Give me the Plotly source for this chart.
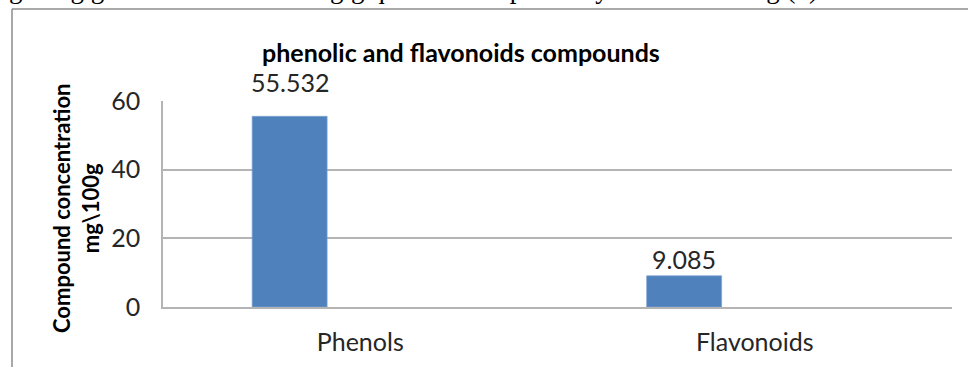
import plotly.graph_objects as go

# ---- data ----
categories = ["Phenols", "Flavonoids"]
values = [55.532, 9.085]
value_labels = ["55.532", "9.085"]
y_ticks = [0, 20, 40, 60]
title_text = "phenolic and flavonoids compounds"
y_title = "Compound concentration<br>mg\\100g"
caption_text = "mg/100g gallic acid and 9.16 mg/g quercetin respectively as shown in fig (1)."

# ---- style ----
W, H = 968, 367
ML, MR, MT, MB = 163, 16, 101, 60
PW, PH = W - ML - MR, H - MT - MB
BAR_W = 0.19
BAR_OFF = -0.274
BAR_COLOR = "#4f81bd"
GRID = "#b4b4b4"
FONT = "Lato"
TXT = "#262626"
label_yshift = [34, 17]


def px_x(px):
    return (px - ML) / PW


def px_y(py):
    return 1 - (py - MT) / PH


fig = go.Figure()
fig.add_trace(go.Bar(
    x=categories, y=values, width=BAR_W, offset=BAR_OFF,
    marker=dict(color=BAR_COLOR, line=dict(color="#7ea3cf", width=0.7)),
    hoverinfo="skip",
))

annotations = []
for i, (v, lab) in enumerate(zip(values, value_labels)):
    annotations.append(dict(
        x=i + BAR_OFF + BAR_W / 2, y=v, xref="x", yref="y", text=lab,
        showarrow=False, yanchor="middle", yshift=label_yshift[i],
        font=dict(family=FONT, size=25, color=TXT),
    ))

annotations.append(dict(
    x=px_x(461), y=px_y(52), xref="paper", yref="paper", text="<b>%s</b>" % title_text,
    showarrow=False, xanchor="center", yanchor="middle",
    font=dict(family=FONT, size=25, color="#000000"),
))
annotations.append(dict(
    x=px_x(76), y=px_y(208), xref="paper", yref="paper", text="<b>%s</b>" % y_title,
    showarrow=False, xanchor="center", yanchor="middle", textangle=-90,
    font=dict(family=FONT, size=22, color="#000000"),
))
annotations.append(dict(
    x=px_x(827), y=px_y(6), xref="paper", yref="paper", text=caption_text,
    showarrow=False, xanchor="right", yanchor="bottom",
    font=dict(family="Liberation Serif", size=27, color="#000000"),
))

shapes = [
    dict(type="line", xref="paper", yref="paper", x0=px_x(12), x1=px_x(12),
         y0=px_y(9), y1=px_y(370), line=dict(color="#8c8c8c", width=1.5)),
    dict(type="line", xref="paper", yref="paper", x0=px_x(12), x1=px_x(970),
         y0=px_y(9), y1=px_y(9), line=dict(color="#8c8c8c", width=1.5)),
]

fig.update_layout(
    width=W, height=H, margin=dict(l=ML, r=MR, t=MT, b=MB),
    paper_bgcolor="white", plot_bgcolor="white", showlegend=False,
    annotations=annotations, shapes=shapes,
    xaxis=dict(type="category", range=[-0.5, 1.5], showgrid=False,
               showline=True, linecolor=GRID, linewidth=1.5,
               ticks="", ticklabelstandoff=12,
               tickfont=dict(family=FONT, size=25, color=TXT)),
    yaxis=dict(range=[0, 60], tickvals=y_ticks, showgrid=True, gridcolor=GRID,
               gridwidth=1.5, zeroline=False, showline=True, linecolor=GRID,
               linewidth=1.5, ticks="", ticklabelstandoff=16,
               tickfont=dict(family=FONT, size=25, color=TXT)),
)

fig.write_html("out.html")
